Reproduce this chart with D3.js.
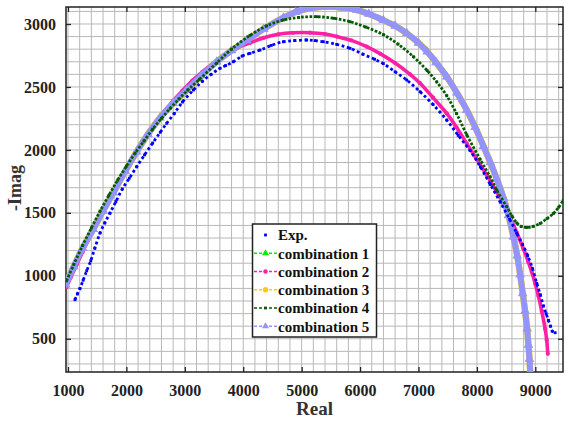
<!DOCTYPE html>
<html>
<head>
<meta charset="utf-8">
<script src="https://cdn.jsdelivr.net/npm/d3@7"></script>
<style>
  body { margin: 0; background: #fff; }
  svg text { font-family: "Liberation Serif", "Times New Roman", serif; font-weight: bold; }
</style>
</head>
<body>
<div id="chart"></div>
<script>
const width = 570;
const height = 421;

// data: Real, -Imag
const expReal = [1120, 1160, 1205, 1260, 1320, 1390, 1460, 1548, 1630, 1719, 1820, 1930, 2050, 2176, 2310, 2450, 2580, 2690, 2820, 2960, 3146, 3300, 3450, 3603, 3700, 3830, 3980, 4116, 4288, 4480, 4687, 4880, 5086, 5230, 5372, 5600, 5829, 6050, 6250, 6399, 6600, 6799, 7027, 7250, 7484, 7680, 7884, 8060, 8230, 8400, 8560, 8680, 8780, 8870, 8950, 9025, 9085, 9139, 9185, 9225, 9260, 9290, 9340];
const expImag = [810, 855, 900, 965, 1040, 1120, 1220, 1339, 1420, 1498, 1590, 1690, 1775, 1866, 1960, 2055, 2140, 2211, 2290, 2380, 2475, 2545, 2600, 2648, 2670, 2700, 2745, 2767, 2793, 2830, 2859, 2868, 2873, 2868, 2859, 2838, 2807, 2760, 2720, 2685, 2620, 2555, 2462, 2360, 2237, 2115, 1995, 1865, 1725, 1585, 1450, 1340, 1250, 1160, 1060, 940, 850, 760, 700, 647, 600, 560, 548];

const c2Real = [970, 1050, 1150, 1250, 1350, 1450, 1560, 1680, 1800, 1930, 2070, 2200, 2350, 2500, 2650, 2800, 2960, 3130, 3300, 3500, 3717, 3900, 4116, 4350, 4600, 4850, 5144, 5400, 5600, 5850, 6114, 6342, 6600, 6856, 7027, 7250, 7484, 7650, 7827, 8000, 8169, 8340, 8450, 8568, 8680, 8796, 8880, 8939, 9000, 9053, 9110, 9168, 9195, 9214];
const c2Imag = [910, 990, 1090, 1190, 1290, 1385, 1480, 1580, 1690, 1800, 1905, 2000, 2110, 2210, 2300, 2390, 2470, 2550, 2620, 2690, 2760, 2810, 2850, 2890, 2918, 2930, 2931, 2920, 2900, 2870, 2820, 2765, 2690, 2600, 2530, 2415, 2290, 2180, 2050, 1925, 1800, 1665, 1575, 1465, 1345, 1215, 1110, 1030, 935, 840, 720, 580, 490, 380];

const c4Real = [975, 1100, 1250, 1400, 1550, 1700, 1850, 2000, 2150, 2300, 2450, 2600, 2750, 2900, 3050, 3250, 3546, 3800, 4116, 4400, 4687, 4950, 5257, 5550, 5829, 6100, 6399, 6650, 6913, 7150, 7313, 7484, 7650, 7827, 8055, 8226, 8340, 8511, 8600, 8682, 8760, 8854, 8960, 9082, 9200, 9310, 9400, 9482];
const c4Imag = [960, 1090, 1240, 1380, 1515, 1640, 1760, 1870, 1975, 2070, 2165, 2250, 2330, 2405, 2475, 2560, 2690, 2800, 2910, 2985, 3032, 3052, 3058, 3045, 3018, 2975, 2915, 2840, 2740, 2630, 2540, 2430, 2290, 2120, 1925, 1786, 1680, 1548, 1475, 1420, 1392, 1384, 1392, 1416, 1455, 1495, 1545, 1601];

const c5Real = [960, 1100, 1250, 1433, 1600, 1776, 1980, 2176, 2370, 2575, 2800, 3032, 3280, 3546, 3800, 4060, 4350, 4687, 4900, 5144, 5486, 5700, 5943, 6150, 6399, 6600, 6799, 7000, 7150, 7300, 7484, 7655, 7827, 7970, 8112, 8230, 8340, 8454, 8540, 8625, 8690, 8740, 8785, 8825, 8860, 8882, 8900, 8912];
const c5Imag = [930, 1075, 1220, 1370, 1515, 1660, 1830, 1985, 2125, 2255, 2370, 2475, 2590, 2700, 2790, 2870, 2960, 3050, 3095, 3125, 3138, 3130, 3111, 3080, 3030, 2985, 2926, 2850, 2780, 2695, 2581, 2455, 2316, 2180, 2030, 1900, 1770, 1620, 1480, 1310, 1160, 1010, 860, 720, 580, 450, 340, 240];

// combination 1 and 3 sit under combination 5 in the picture
const c1Real = c5Real, c1Imag = c5Imag;
const c3Real = c5Real, c3Imag = c5Imag;

const xTicks = [1000, 2000, 3000, 4000, 5000, 6000, 7000, 8000, 9000];
const yTicks = [500, 1000, 1500, 2000, 2500, 3000];
const legendNames = ["Exp.", "combination 1", "combination 2", "combination 3", "combination 4", "combination 5"];

const toPts = (xs, ys) => xs.map((v, i) => [v, ys[i]]);

const plotLeft = 66, plotRight = 563, plotTop = 7, plotBottom = 372;

const x = d3.scaleLinear().domain([966, 9474]).range([plotLeft, plotRight]);
const y = d3.scaleLinear().domain([236, 3135]).range([plotBottom, plotTop]);

const svg = d3.select("#chart").append("svg")
  .attr("width", width)
  .attr("height", height);

svg.append("defs").append("clipPath").attr("id", "clip")
  .append("rect").attr("x", plotLeft).attr("y", plotTop)
  .attr("width", plotRight - plotLeft).attr("height", plotBottom - plotTop);

// grid
const grid = svg.append("g");
grid.selectAll(".gx").data(d3.range(1000, 9475, 200)).enter().append("line")
  .attr("x1", d => x(d)).attr("x2", d => x(d))
  .attr("y1", plotTop).attr("y2", plotBottom)
  .attr("stroke", "#b8b8b8").attr("stroke-width", 1);
grid.selectAll(".gy").data(d3.range(300, 3135, 100)).enter().append("line")
  .attr("x1", plotLeft).attr("x2", plotRight)
  .attr("y1", d => y(d)).attr("y2", d => y(d))
  .attr("stroke", "#b8b8b8").attr("stroke-width", 1);

// axes, ticks inside on all sides
const tickStyle = g => {
  g.select(".domain").remove();
  g.selectAll(".tick line").attr("stroke", "#222").attr("stroke-width", 1.3);
  g.selectAll(".tick text").attr("fill", "#222").style("font-size", "16px");
};
svg.append("g").attr("transform", `translate(0,${plotBottom})`)
  .call(d3.axisBottom(x).tickValues(xTicks).tickSizeInner(-5).tickPadding(13).tickFormat(d3.format("d")))
  .call(tickStyle);
svg.append("g").attr("transform", `translate(0,${plotTop})`)
  .call(d3.axisTop(x).tickValues(xTicks).tickSizeInner(-5).tickFormat(""))
  .call(tickStyle);
svg.append("g").attr("transform", `translate(${plotLeft},0)`)
  .call(d3.axisLeft(y).tickValues(yTicks).tickSizeInner(-5).tickPadding(10).tickFormat(d3.format("d")))
  .call(tickStyle);
svg.append("g").attr("transform", `translate(${plotRight},0)`)
  .call(d3.axisRight(y).tickValues(yTicks).tickSizeInner(-5).tickFormat(""))
  .call(tickStyle);

svg.append("rect")
  .attr("x", plotLeft).attr("y", plotTop)
  .attr("width", plotRight - plotLeft).attr("height", plotBottom - plotTop)
  .attr("fill", "none").attr("stroke", "#222").attr("stroke-width", 1.5);

// series
const plot = svg.append("g").attr("clip-path", "url(#clip)");
const line = d3.line().x(d => x(d[0])).y(d => y(d[1])).curve(d3.curveCatmullRom);

const series = [
  { name: "combination 1", pts: toPts(c1Real, c1Imag), color: "#00ee00", w: 5, dash: null, marker: d3.symbolTriangle, size: 30 },
  { name: "combination 3", pts: toPts(c3Real, c3Imag), color: "#ffcc00", w: 6.5, dash: null, marker: d3.symbolCircle, size: 30 },
  { name: "combination 2", pts: toPts(c2Real, c2Imag), color: "#ff1fa5", w: 3.6, dash: null, marker: d3.symbolCircle, size: 14 },
  { name: "combination 5", pts: toPts(c5Real, c5Imag), color: "#9494ff", w: 6, dash: null, marker: d3.symbolTriangle, size: 40 },
  { name: "combination 4", pts: toPts(c4Real, c4Imag), color: "#005a00", w: 2.8, dash: "2.6,1.6", marker: d3.symbolSquare, size: 8 },
  { name: "Exp.", pts: toPts(expReal, expImag), color: "#0000ff", w: 2.8, dash: "2.8,2.6", marker: d3.symbolSquare, size: 8 }
];

series.forEach(s => {
  plot.append("path")
    .datum(s.pts)
    .attr("d", line)
    .attr("fill", "none")
    .attr("stroke", s.color)
    .attr("stroke-width", s.w)
    .attr("stroke-dasharray", s.dash);
  plot.append("g").selectAll("path")
    .data(s.pts)
    .enter().append("path")
    .attr("transform", d => `translate(${x(d[0])},${y(d[1])})`)
    .attr("d", d3.symbol().type(s.marker).size(s.size))
    .attr("fill", s.color);
});

// legend
const legend = svg.append("g");
legend.append("rect")
  .attr("x", 252.5).attr("y", 224)
  .attr("width", 124).attr("height", 113)
  .attr("fill", "#fff").attr("stroke", "#222").attr("stroke-width", 1.5);

const legendStyle = {
  "Exp.": { color: "#0000ff", marker: d3.symbolSquare, size: 8, line: false },
  "combination 1": { color: "#00ee00", marker: d3.symbolTriangle, size: 22, line: true },
  "combination 2": { color: "#ff1fa5", marker: d3.symbolCircle, size: 16, line: true },
  "combination 3": { color: "#ffcc00", marker: d3.symbolCircle, size: 22, line: true },
  "combination 4": { color: "#005a00", marker: d3.symbolSquare, size: 8, line: true },
  "combination 5": { color: "#9494ff", marker: d3.symbolTriangle, size: 22, line: true }
};

const item = legend.selectAll(".item").data(legendNames).enter().append("g")
  .attr("transform", (d, i) => `translate(0,${235 + i * 18.25})`);
item.filter(d => legendStyle[d].line).append("line")
  .attr("x1", 254).attr("x2", 277).attr("y1", 0).attr("y2", 0)
  .attr("stroke", d => legendStyle[d].color)
  .attr("stroke-width", 1.3)
  .attr("stroke-dasharray", "3,2");
item.append("path")
  .attr("transform", "translate(265.5,0)")
  .attr("d", d => d3.symbol().type(legendStyle[d].marker).size(legendStyle[d].size)())
  .attr("fill", d => legendStyle[d].color);
item.append("text")
  .attr("x", 278).attr("y", 0).attr("dy", "0.35em")
  .attr("fill", "#111")
  .style("font-size", "15px")
  .text(d => d);

// axis titles
svg.append("text")
  .attr("x", (plotLeft + plotRight) / 2).attr("y", 415)
  .attr("text-anchor", "middle")
  .attr("fill", "#333")
  .style("font-size", "19px")
  .text("Real");
svg.append("text")
  .attr("transform", "translate(21,188) rotate(-90)")
  .attr("text-anchor", "middle")
  .attr("fill", "#333")
  .style("font-size", "18px")
  .text("-Imag");
</script>
</body>
</html>
